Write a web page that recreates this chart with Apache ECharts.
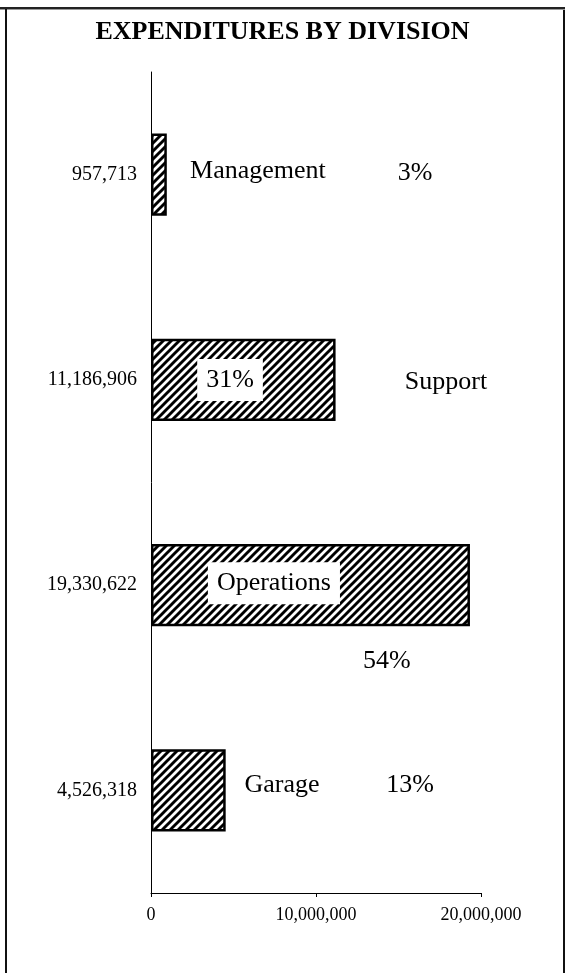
<!DOCTYPE html>
<html>
<head>
<meta charset="utf-8">
<script src="https://cdn.jsdelivr.net/npm/echarts@6/dist/echarts.min.js"></script>
<style>
html,body{margin:0;padding:0;background:#fff;}
#chart{width:565px;height:973px;}
</style>
</head>
<body>
<div id="chart"></div>
<script>
// ---- data ----
var divisions = ['Management', 'Support', 'Operations', 'Garage'];
var expenditures = [957713, 11186906, 19330622, 4526318];
var xTickValues = [0, 10000000, 20000000];
var chartTitle = 'EXPENDITURES BY DIVISION';

function fmt(n) { return n.toLocaleString('en-US'); }
var total = expenditures.reduce(function (a, b) { return a + b; }, 0);
var percents = expenditures.map(function (v) { return Math.round(v / total * 100) + '%'; });

// hatch pattern ("/" stripes)
var T = 8;
var tile = document.createElement('canvas');
tile.width = T; tile.height = T;
var c = tile.getContext('2d');
c.fillStyle = '#fff'; c.fillRect(0, 0, T, T);
c.strokeStyle = '#000'; c.lineWidth = 2.9;
c.beginPath();
c.moveTo(-2, T + 2); c.lineTo(T + 2, -2);
c.moveTo(-2, 2); c.lineTo(2, -2);
c.moveTo(T - 2, T + 2); c.lineTo(T + 2, T - 2);
c.stroke();

var serif = '"Liberation Serif", "DejaVu Serif", serif';

// annotation placements (x in data units, category index, vertical px offset)
var notes = [
  { text: divisions[0], x: 6480000, cat: 0, dy: -3 },
  { text: percents[0], x: 16000000, cat: 0, dy: -1 },
  { text: percents[1], x: 4790000, cat: 1, dy: 0, box: true },
  { text: divisions[1], x: 17880000, cat: 1, dy: 2 },
  { text: divisions[2], x: 7450000, cat: 2, dy: -2, box: true },
  { text: percents[2], x: 14300000, cat: 2, dy: 76 },
  { text: divisions[3], x: 7940000, cat: 3, dy: -5 },
  { text: percents[3], x: 15700000, cat: 3, dy: -5 }
];

var chart = echarts.init(document.getElementById('chart'), null, { renderer: 'canvas' });
chart.setOption({
  animation: false,
  backgroundColor: '#fff',
  title: {
    text: chartTitle,
    left: 'center',
    top: 14,
    textStyle: { fontFamily: serif, fontSize: 26, fontWeight: 'bold', color: '#000' }
  },
  grid: { left: 151, right: 84, top: 72, bottom: 80 },
  xAxis: {
    type: 'value',
    min: 0,
    max: 20000000,
    interval: 10000000,
    axisLine: { show: true, lineStyle: { color: '#000', width: 1 } },
    axisTick: { show: true, length: 4, lineStyle: { color: '#000' } },
    splitLine: { show: false },
    axisLabel: {
      color: '#000', fontFamily: serif, fontSize: 18, margin: 13,
      formatter: function (v) { return xTickValues.indexOf(v) >= 0 ? fmt(v) : ''; }
    }
  },
  yAxis: {
    type: 'category',
    inverse: true,
    data: expenditures.map(fmt),
    axisLine: { show: true, lineStyle: { color: '#000', width: 1 } },
    axisTick: { show: false },
    axisLabel: { color: '#000', fontFamily: serif, fontSize: 20, margin: 14 }
  },
  series: [
    {
      type: 'bar',
      data: expenditures,
      barCategoryGap: '60%',
      itemStyle: { color: { image: tile, repeat: 'repeat' }, borderColor: '#000', borderWidth: 2.5 },
      silent: true
    },
    {
      type: 'scatter',
      symbolSize: 1,
      itemStyle: { color: 'rgba(0,0,0,0)', opacity: 1 },
      silent: true,
      z: 5,
      data: notes.map(function (n) {
        return {
          value: [n.x, n.cat],
          label: {
            show: true,
            position: 'inside',
            formatter: n.text,
            offset: [0, n.dy],
            color: '#000',
            opacity: 1,
            textBorderWidth: 0,
            fontFamily: serif,
            fontSize: 26,
            backgroundColor: n.box ? '#fff' : 'transparent',
            padding: n.box ? [9, 9, 7, 9] : 0
          }
        };
      })
    }
  ],
  graphic: [
    { type: 'rect', shape: { x: 0, y: 7, width: 565, height: 2 }, style: { fill: '#222' } },
    { type: 'rect', shape: { x: 0, y: 9, width: 565, height: 1 }, style: { fill: '#999' } },
    { type: 'rect', shape: { x: 5, y: 9, width: 2, height: 964 }, style: { fill: '#111' } },
    { type: 'rect', shape: { x: 563, y: 10, width: 2, height: 963 }, style: { fill: '#111' } }
  ]
});
</script>
</body>
</html>
